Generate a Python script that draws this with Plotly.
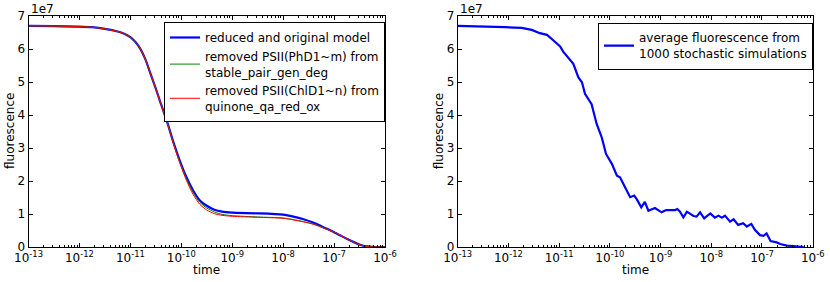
import plotly.graph_objects as go

# ---------------- data ----------------
# deterministic models (left panel): log10(time) and fluorescence (units of 1e7)
det_log_time = [-13.0, -12.5, -12.0, -11.75, -11.5, -11.25, -11.1, -11.0, -10.9, -10.81,
                -10.7, -10.62, -10.5, -10.42, -10.29, -10.16, -10.03, -9.9, -9.77, -9.64,
                -9.5, -9.35, -9.2, -9.0, -8.5, -8.0, -7.8, -7.6, -7.41, -7.25,
                -7.15, -7.0, -6.85, -6.75, -6.6, -6.49, -6.4, -6.3, -6.2, -6.0]
reduced_model = [6.70, 6.695, 6.68, 6.66, 6.61, 6.53, 6.45, 6.36, 6.21, 6.02,
                 5.67, 5.32, 4.80, 4.43, 3.85, 3.20, 2.62, 2.12, 1.72, 1.42,
                 1.25, 1.13, 1.07, 1.04, 1.02, 0.98, 0.92, 0.84, 0.74, 0.63,
                 0.56, 0.45, 0.33, 0.25, 0.14, 0.07, 0.03, 0.01, 0.0, 0.0]
removed_phd1 = [6.70, 6.695, 6.68, 6.66, 6.61, 6.53, 6.45, 6.36, 6.21, 6.02,
                5.67, 5.32, 4.80, 4.43, 3.84, 3.18, 2.59, 2.07, 1.66, 1.36,
                1.18, 1.06, 0.99, 0.95, 0.91, 0.88, 0.83, 0.77, 0.70, 0.61,
                0.55, 0.45, 0.33, 0.25, 0.14, 0.07, 0.03, 0.01, 0.0, 0.0]
removed_chld1 = [6.70, 6.695, 6.68, 6.66, 6.61, 6.53, 6.45, 6.36, 6.21, 6.02,
                 5.67, 5.32, 4.80, 4.43, 3.83, 3.16, 2.55, 2.02, 1.60, 1.30,
                 1.12, 1.01, 0.96, 0.93, 0.90, 0.87, 0.82, 0.76, 0.69, 0.60,
                 0.54, 0.45, 0.33, 0.25, 0.14, 0.07, 0.03, 0.01, 0.0, 0.0]

# stochastic average (right panel)
sto_log_time = [-13.0, -12.5, -12.07, -11.74, -11.54, -11.38, -11.24, -11.15, -11.02, -10.98,
                -10.92, -10.72, -10.62, -10.55, -10.49, -10.36, -10.26, -10.16, -10.075, -9.96,
                -9.86, -9.80, -9.70, -9.60, -9.52, -9.47, -9.38, -9.31, -9.24, -9.11,
                -8.98, -8.89, -8.71, -8.67, -8.62, -8.55, -8.48, -8.35, -8.29, -8.22,
                -8.14, -8.02, -7.93, -7.86, -7.79, -7.73, -7.63, -7.56, -7.47, -7.37,
                -7.30, -7.21, -7.14, -7.04, -6.97, -6.91, -6.83, -6.71, -6.64, -6.51,
                -6.38, -6.25, -6.18]
sto_avg = [6.70, 6.69, 6.66, 6.64, 6.58, 6.48, 6.43, 6.31, 6.13, 6.08,
           5.92, 5.55, 5.14, 4.99, 4.64, 4.33, 3.73, 3.32, 2.82, 2.52,
           2.16, 2.11, 1.81, 1.51, 1.56, 1.45, 1.20, 1.37, 1.10, 1.18,
           1.05, 1.12, 1.12, 1.15, 1.08, 0.90, 1.07, 0.94, 0.92, 1.05,
           0.87, 1.02, 0.89, 0.95, 0.89, 0.95, 0.77, 0.84, 0.67, 0.72,
           0.62, 0.70, 0.52, 0.36, 0.34, 0.41, 0.18, 0.14, 0.09, 0.04,
           0.03, 0.01, 0.0]

x_tick_exps = [-13, -12, -11, -10, -9, -8, -7, -6]
y_tick_vals = [0, 1, 2, 3, 4, 5, 6, 7]
SCALE = 1e7

det_time = [10 ** e for e in det_log_time]
sto_time = [10 ** e for e in sto_log_time]

# ---------------- figure ----------------
FONT = "DejaVu Sans"
FS = 12
W, H = 830, 282

fig = go.Figure()
fig.add_trace(go.Scatter(x=det_time, y=[v * SCALE for v in reduced_model], mode="lines",
                         name="reduced and original model", line=dict(color="#0000ff", width=2.2, shape="spline", smoothing=0.7),
                         xaxis="x", yaxis="y", legend="legend"))
fig.add_trace(go.Scatter(x=det_time, y=[v * SCALE for v in removed_phd1], mode="lines",
                         name="removed PSII(PhD1~m) from<br>stable_pair_gen_deg", line=dict(color="#008000", width=1, shape="spline", smoothing=0.7),
                         xaxis="x", yaxis="y", legend="legend"))
fig.add_trace(go.Scatter(x=det_time, y=[v * SCALE for v in removed_chld1], mode="lines",
                         name="removed PSII(ChlD1~n) from<br>quinone_qa_red_ox", line=dict(color="#ff0000", width=1, shape="spline", smoothing=0.7),
                         xaxis="x", yaxis="y", legend="legend"))
fig.add_trace(go.Scatter(x=sto_time, y=[v * SCALE for v in sto_avg], mode="lines",
                         name="average fluorescence from<br>1000 stochastic simulations", line=dict(color="#0000ff", width=2.2),
                         xaxis="x2", yaxis="y2", legend="legend2"))

tickfont = dict(family=FONT, size=FS, color="black")
xticktext = ["10<sup>%d</sup>" % e for e in x_tick_exps]
xtickvals = [10 ** e for e in x_tick_exps]

def xaxis(domain, anchor):
    return dict(type="log", domain=domain, anchor=anchor, range=[-13, -6],
                tickvals=xtickvals, ticktext=xticktext, ticks="inside", ticklen=4,
                tickcolor="black", showline=True, linecolor="black", linewidth=1,
                mirror="allticks", showgrid=False, zeroline=False, tickfont=tickfont,
                minor=dict(ticks="inside", ticklen=2, tickcolor="black", showgrid=False,
                           tickvals=[m * 10 ** e for e in x_tick_exps[:-1] for m in range(2, 10)]),
                automargin=False)

def yaxis(domain, anchor):
    return dict(domain=domain, anchor=anchor, range=[0, 7e7],
                tickvals=[v * SCALE for v in y_tick_vals], ticktext=[str(v) for v in y_tick_vals],
                ticks="inside", ticklen=4, tickcolor="black", showline=True, linecolor="black",
                linewidth=1, mirror="allticks", showgrid=False, zeroline=False, tickfont=tickfont,
                automargin=False)

ydom = [1 - 247 / H, 1 - 16 / H]
fig.update_layout(
    width=W, height=H, margin=dict(l=0, r=0, t=0, b=0),
    paper_bgcolor="white", plot_bgcolor="white",
    font=dict(family=FONT, size=FS, color="black"),
    xaxis=xaxis([28.5 / W, 385 / W], "y"),
    yaxis=yaxis(ydom, "x"),
    xaxis2=xaxis([457.7 / W, 812.7 / W], "y2"),
    yaxis2=yaxis(ydom, "x2"),
    legend=dict(x=164 / W, y=1 - 22 / H, xanchor="left", yanchor="top",
                bgcolor="white", bordercolor="black", borderwidth=1,
                font=dict(family=FONT, size=FS), tracegroupgap=0, itemwidth=30),
    legend2=dict(x=598 / W, y=1 - 22.5 / H, xanchor="left", yanchor="top",
                 bgcolor="white", bordercolor="black", borderwidth=1,
                 font=dict(family=FONT, size=FS), itemwidth=30),
    showlegend=True,
)

ann = []
for xl, xc in [(28.5, 206.75), (457.7, 635.2)]:
    ann.append(dict(text="1e7", x=xl / W, y=1 - 9 / H, xref="paper", yref="paper",
                    xanchor="left", yanchor="middle", showarrow=False, font=dict(size=FS)))
    ann.append(dict(text="time", x=xc / W, y=1 - 270 / H, xref="paper", yref="paper",
                    xanchor="center", yanchor="middle", showarrow=False, font=dict(size=FS)))
    ann.append(dict(text="fluorescence", x=(xl - 19) / W, y=1 - 131.5 / H, xref="paper", yref="paper",
                    xanchor="center", yanchor="middle", showarrow=False, textangle=-90, font=dict(size=FS)))
fig.update_layout(annotations=ann)

fig.write_html("out.html", config={"displayModeBar": False},
               post_script="document.body.style.margin='0';document.body.style.padding='0';")
